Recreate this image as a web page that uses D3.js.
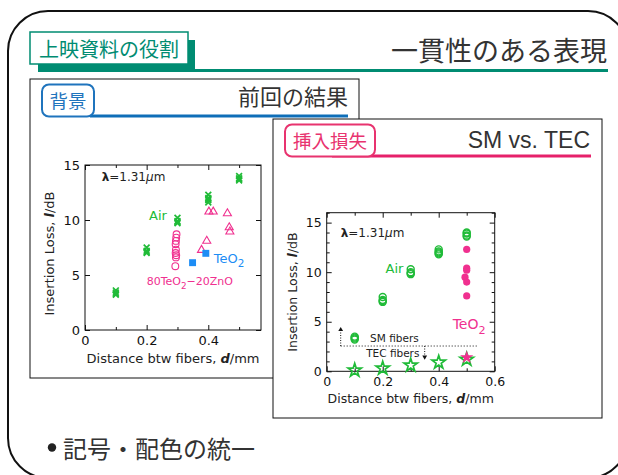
<!DOCTYPE html>
<html>
<head>
<meta charset="utf-8">
<script src="https://cdn.jsdelivr.net/npm/d3@7"></script>
<style>
  body { margin: 0; background: #fff; }
  svg { display: block; }
  text { font-family: "DejaVu Sans", sans-serif; fill: #222; }
  .jp { font-family: "Noto Sans CJK JP", sans-serif; }
</style>
</head>
<body>
<script>
// ---- data: previous results (left chart) ----
const prevAirD = [0.1, 0.2, 0.3, 0.4, 0.5];
const prevAirLoss = [
  [3.2, 3.4, 3.6, 3.3],
  [7.5, 7.2, 7.0, 7.1],
  [10.2, 9.9, 9.7, 9.8],
  [12.3, 12.0, 11.8, 11.6, 11.9],
  [14.0, 13.7, 13.6, 13.8]
];
const prevZnoD = [0.297, 0.296, 0.295, 0.294, 0.295, 0.294, 0.296, 0.295, 0.293];
const prevZnoLoss = [8.7, 8.4, 8.1, 7.8, 7.3, 7.0, 6.8, 6.6, 5.8];
const prevTriD = [0.378, 0.395, 0.402, 0.416, 0.462, 0.468, 0.47];
const prevTriLoss = [7.27, 8.1, 10.75, 10.75, 10.6, 9.33, 8.94];
const prevTeo2D = [0.349, 0.392];
const prevTeo2Loss = [6.12, 6.97];

// ---- data: SM vs. TEC (right chart) ----
const smAirD = [0.1, 0.2, 0.3, 0.4, 0.5];
const smAirLoss = [
  [3.2, 3.4, 3.5, 3.3],
  [7.0, 7.1, 7.2, 7.5],
  [9.8, 9.9, 10.0, 10.3],
  [11.8, 11.9, 12.0, 12.1, 12.3],
  [13.6, 13.7, 13.9, 14.0]
];
const smTeo2D = [0.5, 0.5, 0.5, 0.494, 0.5, 0.5];
const smTeo2Loss = [12.3, 10.4, 10.2, 9.5, 9.0, 7.6];
const tecAirD = [0.1, 0.2, 0.3, 0.4, 0.5];
const tecAirLoss = [0.1, 0.3, 0.6, 0.9, 1.2];
const tecTeo2D = [0.5];
const tecTeo2Loss = [1.4];
const fiberBoundaryLoss = 2.55;
const fiberBoundaryD = [0.05, 0.54];

// ---- ticks ----
const prevXMajor = [0, 0.2, 0.4];
const prevXMinor = [0.1, 0.3, 0.5];
const prevYMajor = [0, 5, 10, 15];
const prevYMinor = [];
const smXMajor = [0, 0.2, 0.4, 0.6];
const smXMinor = [0.1, 0.3, 0.5];
const smYMajor = [0, 5, 10, 15];
const smYMinor = [1, 2, 3, 4, 6, 7, 8, 9, 11, 12, 13, 14, 16];

const green = "#20bb38", pink = "#f0308f", blue = "#1d8df5";

let svg = null;

const crossType = {
  draw(ctx, size) {
    const r = Math.sqrt(size) / 2;
    ctx.moveTo(-r, -r); ctx.lineTo(r, r);
    ctx.moveTo(-r, r); ctx.lineTo(r, -r);
  }
};

function main() {
  appendSvg("body");
  drawSlideFrame();
  drawHeader();
  drawPanel({ x: 30, y: 79, w: 329, h: 299 }, { x: 42, w: 52, label: "背景", color: "#1f74bd", line: "#0e6eb8", lineFrom: 90, lineTo: 348 },
    "前回の結果", { jp: true, size: 22, x: 348, y: 105 });
  drawPrevChart();
  drawPanel({ x: 273, y: 119, w: 329, h: 299 }, { x: 285, w: 90, label: "挿入損失", color: "#e8336f", line: "#e6206a", lineFrom: 332, lineTo: 591 },
    "SM vs. TEC", { jp: false, size: 23, x: 590, y: 147.7 });
  drawSmChart();
  drawBullet();
}

function appendSvg(domElement) {
  svg = d3.select(domElement).append("svg")
    .attr("width", 618)
    .attr("height", 475);
}

function drawSlideFrame() {
  svg.append("rect")
    .attr("x", 8).attr("y", 11)
    .attr("width", 620).attr("height", 467)
    .attr("rx", 40)
    .attr("fill", "none")
    .attr("stroke", "#111")
    .attr("stroke-width", 2);
}

function drawHeader() {
  const teal = "#008c72";
  // shadow + long underline
  svg.append("rect").attr("x", 38).attr("y", 40).attr("width", 157).attr("height", 32).attr("fill", teal);
  svg.append("rect").attr("x", 38).attr("y", 69).attr("width", 570).attr("height", 3).attr("fill", teal);
  svg.append("rect").attr("x", 30).attr("y", 32).attr("width", 158).attr("height", 32)
    .attr("fill", "#fff").attr("stroke", teal).attr("stroke-width", 1.5);
  svg.append("text").attr("class", "jp")
    .attr("x", 109).attr("y", 48.5)
    .attr("text-anchor", "middle").attr("dominant-baseline", "central")
    .style("font-size", "20px").style("fill", teal)
    .text("上映資料の役割");
  svg.append("text").attr("class", "jp")
    .attr("x", 607).attr("y", 61)
    .attr("text-anchor", "end")
    .style("font-size", "27px").style("fill", "#333")
    .text("一貫性のある表現");
}

function drawPanel(box, badge, title, t) {
  svg.append("rect")
    .attr("x", box.x).attr("y", box.y).attr("width", box.w).attr("height", box.h)
    .attr("fill", "#fff").attr("stroke", "#111").attr("stroke-width", 1);
  svg.append("rect")
    .attr("x", badge.lineFrom).attr("y", box.y + 35.5)
    .attr("width", badge.lineTo - badge.lineFrom).attr("height", 3)
    .attr("fill", badge.line);
  svg.append("rect")
    .attr("x", badge.x).attr("y", box.y + 5.5)
    .attr("width", badge.w).attr("height", 32)
    .attr("rx", 7)
    .attr("fill", "#fff").attr("stroke", badge.color).attr("stroke-width", 2);
  svg.append("text").attr("class", "jp")
    .attr("x", badge.x + badge.w / 2).attr("y", box.y + 20.5)
    .attr("text-anchor", "middle").attr("dominant-baseline", "central")
    .style("font-size", "18.5px").style("fill", badge.color)
    .text(badge.label);
  svg.append("text")
    .attr("class", t.jp ? "jp" : null)
    .attr("x", t.x).attr("y", t.y)
    .attr("text-anchor", "end")
    .style("font-family", t.jp ? null : "'Liberation Sans', Arial, sans-serif")
    .style("font-size", t.size + "px").style("fill", "#333")
    .text(title);
}

// inward ticks on all four sides, labels only bottom/left
function drawAxes(g, x, y, w, h, tk, fontSize) {
  const fmt = d => d === 0 ? "0" : (Number.isInteger(d) ? d : d3.format(".1f")(d));
  const sides = [
    { ax: () => d3.axisBottom(x), tr: `translate(0,${h})`, major: tk.xMajor, minor: tk.xMinor, lab: true, pad: 6 },
    { ax: () => d3.axisTop(x), tr: "translate(0,0)", major: tk.xMajor, minor: tk.xMinor, lab: false },
    { ax: () => d3.axisLeft(y), tr: "translate(0,0)", major: tk.yMajor, minor: tk.yMinor, lab: true, pad: 5 },
    { ax: () => d3.axisRight(y), tr: `translate(${w},0)`, major: tk.yMajor, minor: tk.yMinor, lab: false }
  ];
  sides.forEach(s => {
    const a = g.append("g").attr("transform", s.tr)
      .call(s.ax().tickValues(s.major).tickSizeInner(-5).tickSizeOuter(0)
        .tickPadding(s.pad || 0).tickFormat(s.lab ? fmt : ""));
    a.attr("font-size", fontSize).attr("font-family", "DejaVu Sans");
    a.select(".domain").remove();
    const b = g.append("g").attr("transform", s.tr)
      .call(s.ax().tickValues(s.minor).tickSizeInner(-3).tickSizeOuter(0).tickFormat(""));
    b.select(".domain").remove();
  });
  g.selectAll(".tick line").attr("stroke", "#111");
  g.selectAll(".tick text").style("fill", "#111");
  g.append("rect").attr("width", w).attr("height", h)
    .attr("fill", "none").attr("stroke", "#111").attr("stroke-width", 1);
}

function axisTitles(g, w, h, size, xOff, yOff, yShift) {
  g.append("text")
    .attr("x", w / 2).attr("y", h + yOff)
    .attr("text-anchor", "middle")
    .style("font-size", size + "px")
    .call(t => {
      t.append("tspan").text("Distance btw fibers, ");
      t.append("tspan").style("font-weight", "bold").style("font-style", "italic").text("d");
      t.append("tspan").text("/mm");
    });
  g.append("text")
    .attr("transform", `translate(${xOff},${h / 2 + yShift}) rotate(-90)`)
    .attr("text-anchor", "middle")
    .style("font-size", size + "px")
    .call(t => {
      t.append("tspan").text("Insertion Loss, ");
      t.append("tspan").style("font-weight", "bold").style("font-style", "italic").text("l");
      t.append("tspan").text("/dB");
    });
}

function lambdaLabel(g, x, y, d, v, size) {
  g.append("text")
    .attr("x", x(d)).attr("y", y(v))
    .style("font-size", size + "px")
    .call(t => {
      t.append("tspan").style("font-weight", "bold").text("λ");
      t.append("tspan").text("=1.31");
      t.append("tspan").style("font-style", "italic").text("μ");
      t.append("tspan").text("m");
    });
}

function subLabel(g, px, py, parts, color, size) {
  const t = g.append("text").attr("x", px).attr("y", py)
    .style("font-size", size + "px").style("fill", color);
  parts.forEach(p => {
    if (p.sub) {
      t.append("tspan").attr("dy", size * 0.35).style("font-size", (size * 0.8) + "px").text(p.t);
    } else {
      t.append("tspan").attr("dy", p.after ? -size * 0.35 : 0).text(p.t);
    }
  });
}

function flatten(ds, groups) {
  return groups.flatMap((arr, i) => arr.map(v => ({ d: ds[i], loss: v })));
}
function zipPts(ds, vs) {
  return ds.map((d, i) => ({ d: d, loss: vs[i] }));
}

function drawPrevChart() {
  const left = 85, top = 165, w = 176, h = 165;
  const g = svg.append("g").attr("transform", `translate(${left},${top})`);
  const x = d3.scaleLinear().domain([0, 0.571]).range([0, w]);
  const y = d3.scaleLinear().domain([0, 15]).range([h, 0]);

  drawAxes(g, x, y, w, h, { xMajor: prevXMajor, xMinor: prevXMinor, yMajor: prevYMajor, yMinor: prevYMinor }, 13);
  axisTitles(g, w, h, 13, -31, 32.7, 6);

  g.selectAll("path.air")
    .data(flatten(prevAirD, prevAirLoss))
    .enter().append("path")
    .attr("transform", d => `translate(${x(d.d)},${y(d.loss)})`)
    .attr("d", d3.symbol(crossType, 34))
    .attr("fill", "none").attr("stroke", green).attr("stroke-width", 1.7);

  g.selectAll("circle.zno")
    .data(zipPts(prevZnoD, prevZnoLoss))
    .enter().append("circle")
    .attr("cx", d => x(d.d)).attr("cy", d => y(d.loss))
    .attr("r", 3.4)
    .attr("fill", "none").attr("stroke", pink).attr("stroke-width", 1.1);

  g.selectAll("path.tri")
    .data(zipPts(prevTriD, prevTriLoss))
    .enter().append("path")
    .attr("transform", d => `translate(${x(d.d)},${y(d.loss)})`)
    .attr("d", d3.symbol(d3.symbolTriangle, 28))
    .attr("fill", "none").attr("stroke", pink).attr("stroke-width", 1.1);

  g.selectAll("path.teo2")
    .data(zipPts(prevTeo2D, prevTeo2Loss))
    .enter().append("path")
    .attr("transform", d => `translate(${x(d.d)},${y(d.loss)})`)
    .attr("d", d3.symbol(d3.symbolSquare, 48))
    .attr("fill", blue);

  lambdaLabel(g, x, y, 0.054, 13.57, 12);
  subLabel(g, x(0.208), y(10.0), [{ t: "Air" }], green, 13);
  subLabel(g, x(0.418), y(6.1), [{ t: "TeO" }, { t: "2", sub: true }], blue, 13);
  subLabel(g, x(0.2), y(4.1), [{ t: "80TeO" }, { t: "2", sub: true }, { t: "−20ZnO", after: true }], pink, 11);
}

function drawSmChart() {
  const left = 326.7, top = 212.7, w = 168, h = 158.6;
  const g = svg.append("g").attr("transform", `translate(${left},${top})`);
  const x = d3.scaleLinear().domain([0, 0.6]).range([0, w]);
  const y = d3.scaleLinear().domain([0, 16]).range([h, 0]);

  drawAxes(g, x, y, w, h, { xMajor: smXMajor, xMinor: smXMinor, yMajor: smYMajor, yMinor: smYMinor }, 12.5);
  axisTitles(g, w, h, 12.5, -30, 31.4, 0);

  // SM / TEC boundary
  g.append("line")
    .attr("x1", x(fiberBoundaryD[0])).attr("x2", x(fiberBoundaryD[1]))
    .attr("y1", y(fiberBoundaryLoss)).attr("y2", y(fiberBoundaryLoss))
    .attr("stroke", "#111").attr("stroke-width", 1).attr("stroke-dasharray", "1,2");
  const arrows = [{ d: 0.05, to: 4.4, up: true }, { d: 0.35, to: 1.25, up: false }];
  arrows.forEach(a => {
    g.append("line")
      .attr("x1", x(a.d)).attr("x2", x(a.d))
      .attr("y1", y(fiberBoundaryLoss)).attr("y2", y(a.to) + (a.up ? 3 : -3))
      .attr("stroke", "#111").attr("stroke-width", 1).attr("stroke-dasharray", "1,1.5");
    g.append("path")
      .attr("transform", `translate(${x(a.d)},${y(a.to) + (a.up ? 2 : -2)}) rotate(${a.up ? 0 : 180})`)
      .attr("d", d3.symbol(d3.symbolTriangle, 10))
      .attr("fill", "#111");
  });
  g.append("text").attr("x", x(0.155)).attr("y", y(3.0)).style("font-size", "10.5px").text("SM fibers");
  g.append("text").attr("x", x(0.141)).attr("y", y(1.48)).style("font-size", "10.5px").text("TEC fibers");

  g.selectAll("circle.air")
    .data(flatten(smAirD, smAirLoss))
    .enter().append("circle")
    .attr("cx", d => x(d.d)).attr("cy", d => y(d.loss))
    .attr("r", 3.5)
    .attr("fill", "none").attr("stroke", green).attr("stroke-width", 1.4);

  g.selectAll("circle.teo2")
    .data(zipPts(smTeo2D, smTeo2Loss))
    .enter().append("circle")
    .attr("cx", d => x(d.d)).attr("cy", d => y(d.loss))
    .attr("r", 3.6)
    .attr("fill", pink);

  g.selectAll("path.tec")
    .data(zipPts(tecAirD, tecAirLoss))
    .enter().append("path")
    .attr("transform", d => `translate(${x(d.d)},${y(d.loss)})`)
    .attr("d", d3.symbol(d3.symbolStar, 55))
    .attr("fill", "none").attr("stroke", green).attr("stroke-width", 1.7);

  g.selectAll("path.tecTeo2")
    .data(zipPts(tecTeo2D, tecTeo2Loss))
    .enter().append("path")
    .attr("transform", d => `translate(${x(d.d)},${y(d.loss)})`)
    .attr("d", d3.symbol(d3.symbolStar, 55))
    .attr("fill", pink);

  lambdaLabel(g, x, y, 0.05, 13.5, 12);
  subLabel(g, x(0.21), y(9.94), [{ t: "Air" }], green, 13);
  subLabel(g, x(0.45), y(4.23), [{ t: "TeO" }, { t: "2", sub: true }], pink, 14);
}

function drawBullet() {
  svg.append("circle").attr("cx", 52).attr("cy", 447.5).attr("r", 4.2).attr("fill", "#222");
  svg.append("text").attr("class", "jp")
    .attr("x", 63).attr("y", 447)
    .attr("dominant-baseline", "central")
    .style("font-size", "24px").style("fill", "#333")
    .text("記号・配色の統一");
}

main();
</script>
</body>
</html>
